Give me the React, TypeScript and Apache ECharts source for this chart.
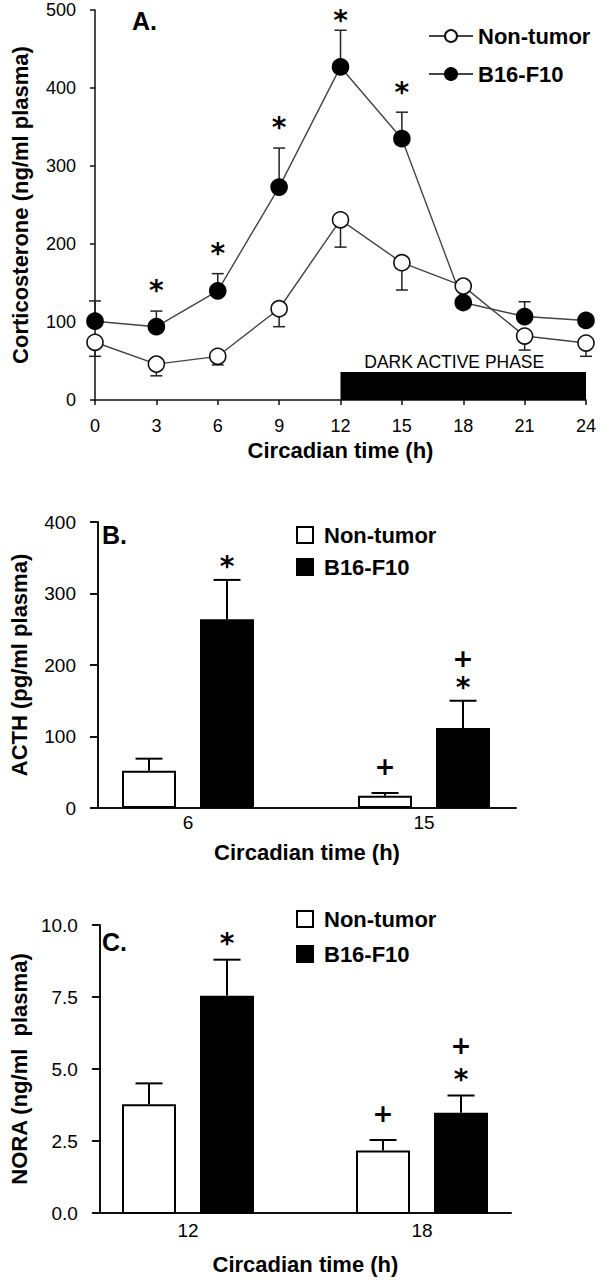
import React, { useEffect, useRef } from 'react';
import * as echarts from 'echarts';

// ---------- Panel A data ----------
const timesA = [0, 3, 6, 9, 12, 15, 18, 21, 24];
const nonTumorA = [74, 46, 56, 117, 231, 176, 146, 82, 73];
const nonTumorSemA = [18, 15, 11, 23, 35, 35, 0, 18, 17];
const b16A = [101, 94, 140, 273, 427, 335, 125, 107, 102];
const b16SemA = [26, 20, 22, 50, 47, 34, 0, 19, 0];
const b16MarksA = ['', '*', '*', '*', '*', '*', '', '', ''];
const darkPhase = [12, 24, 36]; // start (h), end (h), bar height (axis units)
const darkLabel = 'DARK ACTIVE PHASE';

// ---------- Panel B data ----------
const catsB = ['6', '15'];
const nonTumorB = [52, 17];
const nonTumorSemB = [17, 4];
const b16B = [264, 112];
const b16SemB = [55, 38];
const nonTumorMarksB = ['', '+'];
const b16MarksB = ['*', '*+'];

// ---------- Panel C data ----------
const catsC = ['12', '18'];
const nonTumorC = [3.8, 2.2];
const nonTumorSemC = [0.72, 0.36];
const b16C = [7.55, 3.5];
const b16SemC = [1.25, 0.6];
const nonTumorMarksC = ['', '+'];
const b16MarksC = ['*', '*+'];

const SERIES_NT = 'Non-tumor';
const SERIES_B16 = 'B16-F10';

const SANS = '"Liberation Sans", Arial, sans-serif';
const SYM = '"DejaVu Sans", sans-serif';
const INK = '#111';

const titleStyle = { fontFamily: SANS, fontWeight: 'bold' as const, fontSize: 22, color: '#000' };

function markTexts(mark: string, x: number, top: number, firstStar: number, firstPlus: number, gap: number, starSize: number, plusSize: number, minY: number) {
  const out: any[] = [];
  let level = 0;
  for (let k = 0; k < mark.length; k++) {
    const ch = mark[k];
    let off: number;
    if (k === 0) off = ch === '*' ? firstStar : firstPlus;
    else off = level + gap;
    level = off;
    const isStar = ch === '*';
    const y = Math.max(minY, top - off) + (isStar ? starSize * 0.21 : 0);
    out.push({
      type: 'text',
      x,
      y,
      style: {
        text: ch,
        font: `bold ${isStar ? starSize : plusSize}px ${SYM}`,
        fill: '#000',
        align: 'center',
        verticalAlign: 'middle',
        textAlign: 'center',
        textVerticalAlign: 'middle',
      },
    });
  }
  return out;
}

function buildA(): any {
  const errNt = timesA
    .map((t, i) => [t, nonTumorA[i], nonTumorA[i] - nonTumorSemA[i]])
    .filter((d, i) => nonTumorSemA[i] > 0);
  const errB16 = timesA
    .map((t, i) => [t, b16A[i], b16A[i] + b16SemA[i]])
    .filter((d, i) => b16SemA[i] > 0);
  const marks = timesA
    .map((t, i) => ({ t, top: b16A[i] + b16SemA[i], mark: b16MarksA[i] }))
    .filter((m) => m.mark);

  const errRender = (params: any, api: any) => {
    const x = api.value(0);
    const p0 = api.coord([x, api.value(1)]);
    const p1 = api.coord([x, api.value(2)]);
    const st = { stroke: '#222', lineWidth: 1.5 };
    return {
      type: 'group',
      children: [
        { type: 'line', shape: { x1: p0[0], y1: p0[1], x2: p1[0], y2: p1[1] }, style: st },
        { type: 'line', shape: { x1: p1[0] - 6, y1: p1[1], x2: p1[0] + 6, y2: p1[1] }, style: st },
      ],
    };
  };

  return {
    animation: false,
    grid: { left: 95, top: 10, width: 491, height: 390 },
    xAxis: {
      type: 'value',
      min: 0,
      max: 24,
      interval: 3,
      name: 'Circadian time (h)',
      nameLocation: 'middle',
      nameGap: 30,
      nameTextStyle: titleStyle,
      axisLine: { lineStyle: { color: INK, width: 1.5 } },
      axisTick: { show: true, length: 5, lineStyle: { color: INK, width: 1.5 } },
      axisLabel: { margin: 17, fontFamily: SANS, fontSize: 18, color: '#000' },
      splitLine: { show: false },
    },
    yAxis: {
      type: 'value',
      min: 0,
      max: 500,
      interval: 100,
      name: 'Corticosterone (ng/ml plasma)',
      nameLocation: 'middle',
      nameGap: 64,
      nameTextStyle: titleStyle,
      axisLine: { show: true, onZero: false, lineStyle: { color: INK, width: 1.5 } },
      axisTick: { show: true, length: 5, lineStyle: { color: INK, width: 1.5 } },
      axisLabel: { margin: 19, fontFamily: SANS, fontSize: 18, color: '#000' },
      splitLine: { show: false },
    },
    legend: {
      orient: 'vertical',
      left: 423,
      top: 20,
      itemWidth: 44,
      itemHeight: 15,
      itemGap: 16,
      textStyle: { fontFamily: SANS, fontWeight: 'bold', fontSize: 22, color: '#000' },
      data: [SERIES_NT, SERIES_B16],
      selectedMode: false,
    },
    series: [
      {
        type: 'custom',
        name: 'dark',
        silent: true,
        z: 1,
        data: [darkPhase],
        renderItem: (params: any, api: any) => {
          const p0 = api.coord([api.value(0), 0]);
          const p1 = api.coord([api.value(1), api.value(2)]);
          return {
            type: 'group',
            children: [
              { type: 'rect', shape: { x: p0[0], y: p1[1], width: p1[0] - p0[0], height: p0[1] - p1[1] }, style: { fill: '#000' } },
              {
                type: 'text',
                x: (p0[0] + p1[0]) / 2 - 9,
                y: p1[1] - 10,
                style: {
                  text: darkLabel,
                  font: `17.5px ${SANS}`,
                  fill: '#000',
                  align: 'center',
                  verticalAlign: 'middle',
                  textAlign: 'center',
                  textVerticalAlign: 'middle',
                },
              },
            ],
          };
        },
      },
      { type: 'custom', name: 'errNt', silent: true, z: 2, data: errNt, renderItem: errRender },
      { type: 'custom', name: 'errB16', silent: true, z: 2, data: errB16, renderItem: errRender },
      {
        type: 'line',
        name: SERIES_NT,
        z: 3,
        data: timesA.map((t, i) => [t, nonTumorA[i]]),
        symbol: 'circle',
        symbolSize: 16,
        lineStyle: { color: '#444', width: 1.4 },
        itemStyle: { color: '#fff', borderColor: '#111', borderWidth: 1.6 },
      },
      {
        type: 'line',
        name: SERIES_B16,
        z: 3,
        data: timesA.map((t, i) => [t, b16A[i]]),
        symbol: 'circle',
        symbolSize: 16,
        lineStyle: { color: '#444', width: 1.4 },
        itemStyle: { color: '#000', borderColor: '#000', borderWidth: 1.6 },
      },
      {
        type: 'custom',
        name: 'marks',
        silent: true,
        z: 4,
        data: marks.map((m) => [m.t, m.top]),
        renderItem: (params: any, api: any) => {
          const p = api.coord([api.value(0), api.value(1)]);
          return { type: 'group', children: markTexts(marks[params.dataIndex].mark, p[0], p[1], 26, 26, 25, 28, 24, 15) };
        },
      },
    ],
    graphic: [
      {
        type: 'text',
        left: 132,
        top: 8,
        style: { text: 'A.', font: `bold 25px ${SANS}`, fill: '#000' },
      },
    ],
  };
}

const BAR_W = 54;
const BAR_GAP = 24;

function buildBar(p: {
  cats: string[];
  nt: number[];
  ntSem: number[];
  b16: number[];
  b16Sem: number[];
  ntMarks: string[];
  b16Marks: string[];
  yMax: number;
  yInterval: number;
  yName: string;
  decimals: number;
  label: string;
  labelTop: number;
  gridTop: number;
  gridHeight: number;
  axisLeft: number;
  axisRight: number;
  firstCenter: number;
  groupSpacing: number;
  legendTop: number;
  legendGap: number;
  xNameGap: number;
  xLabelMargin: number;
  firstStar: number;
  firstPlus: number;
  markGap: number;
}): any {
  const off = (BAR_W + BAR_GAP) / 2;
  // grid 0: bar (category) grid whose band centers fall on the group centers
  const barLeft = p.firstCenter - p.groupSpacing / 2;
  const barWidthGrid = p.groupSpacing * p.cats.length;
  const errRender = (sign: number) => (params: any, api: any) => {
    const i = api.value(0);
    const p0 = api.coord([i, api.value(1)]);
    const p1 = api.coord([i, api.value(2)]);
    const x = p0[0] + sign * off;
    const st = { stroke: '#000', lineWidth: 2 };
    return {
      type: 'group',
      children: [
        { type: 'line', shape: { x1: x, y1: p0[1], x2: x, y2: p1[1] }, style: st },
        { type: 'line', shape: { x1: x - 13.5, y1: p1[1], x2: x + 13.5, y2: p1[1] }, style: st },
      ],
    };
  };
  const markSeries = (sign: number, means: number[], sems: number[], marks: string[]) => {
    const items = means.map((m, i) => ({ i, top: m + sems[i], mark: marks[i] })).filter((d) => d.mark);
    return {
      type: 'custom',
      silent: true,
      z: 4,
      xAxisIndex: 0,
      yAxisIndex: 0,
      data: items.map((d) => [d.i, d.top]),
      renderItem: (params: any, api: any) => {
        const pt = api.coord([api.value(0), api.value(1)]);
        return {
          type: 'group',
          children: markTexts(items[params.dataIndex].mark, pt[0] + sign * off, pt[1], p.firstStar, p.firstPlus, p.markGap, 28, 25, 0),
        };
      },
    };
  };
  const yCommon = { type: 'value', min: 0, max: p.yMax, interval: p.yInterval, splitLine: { show: false } };
  return {
    animation: false,
    grid: [
      { left: barLeft, top: p.gridTop, width: barWidthGrid, height: p.gridHeight },
      { left: p.axisLeft, top: p.gridTop, width: p.axisRight - p.axisLeft, height: p.gridHeight },
    ],
    xAxis: [
      {
        type: 'category',
        gridIndex: 0,
        data: p.cats,
        axisLine: { show: false },
        axisTick: { show: false },
        axisLabel: { margin: p.xLabelMargin, fontFamily: SANS, fontSize: 19, color: '#000' },
        splitLine: { show: false },
      },
      {
        type: 'value',
        gridIndex: 1,
        min: 0,
        max: 1,
        name: 'Circadian time (h)',
        nameLocation: 'middle',
        nameGap: p.xNameGap,
        nameTextStyle: titleStyle,
        axisLine: { onZero: false, lineStyle: { color: INK, width: 2 } },
        axisTick: { show: false },
        axisLabel: { show: false },
        splitLine: { show: false },
      },
    ],
    yAxis: [
      { ...yCommon, gridIndex: 0, show: false },
      {
        ...yCommon,
        gridIndex: 1,
        name: p.yName,
        nameLocation: 'middle',
        nameGap: 68,
        nameTextStyle: titleStyle,
        axisLine: { show: true, onZero: false, lineStyle: { color: INK, width: 2 } },
        axisTick: { show: true, length: 8, lineStyle: { color: INK, width: 2 } },
        axisLabel: {
          margin: 22,
          fontFamily: SANS,
          fontSize: 19,
          color: '#000',
          formatter: (v: number) => v.toFixed(p.decimals),
        },
      },
    ],
    legend: {
      orient: 'vertical',
      left: 291,
      top: p.legendTop,
      itemWidth: 16,
      itemHeight: 16,
      itemGap: p.legendGap,
      selectedMode: false,
      textStyle: { fontFamily: SANS, fontWeight: 'bold', fontSize: 22, color: '#000', padding: [0, 0, 0, 6] },
      data: [
        { name: SERIES_NT, icon: 'rect' },
        { name: SERIES_B16, icon: 'rect' },
      ],
    },
    series: [
      {
        type: 'bar',
        name: SERIES_NT,
        xAxisIndex: 0,
        yAxisIndex: 0,
        barWidth: BAR_W,
        barGap: `${(BAR_GAP / BAR_W) * 100}%`,
        z: 2,
        data: p.nt,
        itemStyle: { color: '#fff', borderColor: '#000', borderWidth: 2 },
      },
      {
        type: 'bar',
        name: SERIES_B16,
        xAxisIndex: 0,
        yAxisIndex: 0,
        barWidth: BAR_W,
        barGap: `${(BAR_GAP / BAR_W) * 100}%`,
        z: 2,
        data: p.b16,
        itemStyle: { color: '#000', borderColor: '#000', borderWidth: 2 },
      },
      {
        type: 'custom',
        silent: true,
        z: 3,
        xAxisIndex: 0,
        yAxisIndex: 0,
        data: p.nt.map((v, i) => [i, v, v + p.ntSem[i]]),
        renderItem: errRender(-1),
      },
      {
        type: 'custom',
        silent: true,
        z: 3,
        xAxisIndex: 0,
        yAxisIndex: 0,
        data: p.b16.map((v, i) => [i, v, v + p.b16Sem[i]]),
        renderItem: errRender(1),
      },
      markSeries(-1, p.nt, p.ntSem, p.ntMarks),
      markSeries(1, p.b16, p.b16Sem, p.b16Marks),
    ],
    graphic: [
      {
        type: 'text',
        left: 102,
        top: p.labelTop,
        style: { text: p.label, font: `bold 25px ${SANS}`, fill: '#000' },
      },
    ],
  };
}

export default function App() {
  const refA = useRef<HTMLDivElement>(null);
  const refB = useRef<HTMLDivElement>(null);
  const refC = useRef<HTMLDivElement>(null);

  useEffect(() => {
    document.body.style.margin = '0';
    const a = echarts.init(refA.current!, null, { renderer: 'svg' });
    const b = echarts.init(refB.current!, null, { renderer: 'svg' });
    const c = echarts.init(refC.current!, null, { renderer: 'svg' });
    a.setOption(buildA());
    b.setOption(
      buildBar({
        cats: catsB,
        nt: nonTumorB,
        ntSem: nonTumorSemB,
        b16: b16B,
        b16Sem: b16SemB,
        ntMarks: nonTumorMarksB,
        b16Marks: b16MarksB,
        yMax: 400,
        yInterval: 100,
        yName: 'ACTH (pg/ml plasma)',
        decimals: 0,
        label: 'B.',
        labelTop: 52,
        gridTop: 52,
        gridHeight: 286,
        axisLeft: 96,
        axisRight: 516,
        firstCenter: 188,
        groupSpacing: 236,
        legendTop: 49,
        legendGap: 10,
        xNameGap: 33,
        xLabelMargin: 5,
        firstStar: 19,
        firstPlus: 26,
        markGap: 23,
      })
    );
    c.setOption(
      buildBar({
        cats: catsC,
        nt: nonTumorC,
        ntSem: nonTumorSemC,
        b16: b16C,
        b16Sem: b16SemC,
        ntMarks: nonTumorMarksC,
        b16Marks: b16MarksC,
        yMax: 10,
        yInterval: 2.5,
        yName: 'NORA (ng/ml  plasma)',
        decimals: 1,
        label: 'C.',
        labelTop: 59,
        gridTop: 55,
        gridHeight: 289,
        axisLeft: 96,
        axisRight: 511,
        firstCenter: 188,
        groupSpacing: 234,
        legendTop: 33,
        legendGap: 13,
        xNameGap: 40,
        xLabelMargin: 7,
        firstStar: 22,
        firstPlus: 27,
        markGap: 28,
      })
    );
    return () => {
      a.dispose();
      b.dispose();
      c.dispose();
    };
  }, []);

  return (
    <div style={{ position: 'relative', width: 600, height: 1280, background: '#fff' }}>
      <div ref={refA} style={{ position: 'absolute', left: 0, top: 0, width: 600, height: 470 }} />
      <div ref={refB} style={{ position: 'absolute', left: 0, top: 470, width: 600, height: 400 }} />
      <div ref={refC} style={{ position: 'absolute', left: 0, top: 870, width: 600, height: 410 }} />
    </div>
  );
}
